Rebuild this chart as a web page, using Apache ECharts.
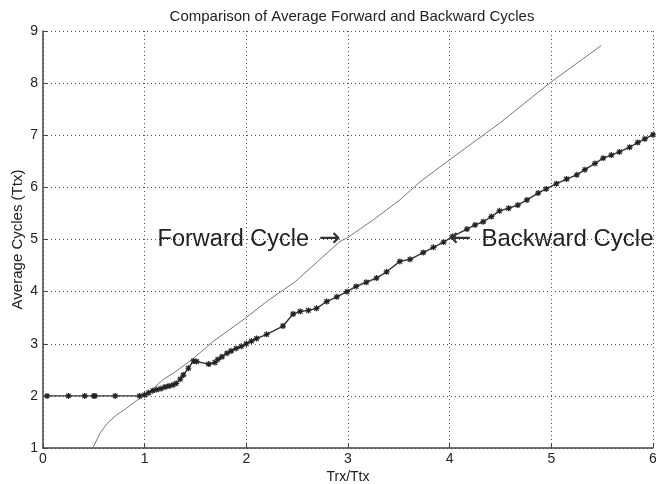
<!DOCTYPE html>
<html>
<head>
<meta charset="utf-8">
<script src="https://cdn.jsdelivr.net/npm/echarts@6/dist/echarts.min.js"></script>
<style>
  html, body { margin: 0; padding: 0; background: #fff; }
  #chart { width: 656px; height: 484px; }
</style>
</head>
<body>
<div id="chart"></div>
<script>
// forward cycle curve (thin line, no markers)
const forwardX = [0.49, 0.56, 0.63, 0.72, 0.82, 0.92, 1.0, 1.1, 1.18, 1.3, 1.48, 1.67, 1.99, 2.2, 2.48, 2.92, 3.0, 3.25, 3.51, 3.71, 4.0, 4.49, 4.99, 5.25, 5.49];
const forwardY = [1.0, 1.28, 1.47, 1.63, 1.76, 1.91, 2.0, 2.17, 2.31, 2.46, 2.72, 3.04, 3.49, 3.81, 4.19, 4.96, 5.04, 5.38, 5.76, 6.11, 6.53, 7.23, 8.01, 8.38, 8.72];

// backward cycle (line with * markers)
const backwardX = [0.04, 0.25, 0.41, 0.5, 0.51, 0.71, 0.95, 1.0, 1.04, 1.08, 1.12, 1.16, 1.2, 1.24, 1.28, 1.31, 1.35, 1.38, 1.43, 1.48, 1.51, 1.63, 1.69, 1.72, 1.76, 1.81, 1.85, 1.9, 1.95, 2.0, 2.05, 2.1, 2.2, 2.36, 2.46, 2.53, 2.61, 2.69, 2.79, 2.89, 2.99, 3.08, 3.18, 3.28, 3.38, 3.51, 3.61, 3.74, 3.84, 3.94, 4.03, 4.17, 4.25, 4.33, 4.41, 4.49, 4.58, 4.67, 4.76, 4.87, 4.95, 5.05, 5.15, 5.25, 5.33, 5.43, 5.51, 5.59, 5.67, 5.77, 5.85, 5.92, 6.0];
const backwardY = [2.0, 2.0, 2.0, 2.0, 2.0, 2.0, 2.0, 2.02, 2.06, 2.1, 2.12, 2.14, 2.17, 2.19, 2.21, 2.24, 2.32, 2.4, 2.53, 2.67, 2.66, 2.61, 2.64, 2.7, 2.75, 2.82, 2.86, 2.91, 2.95, 3.0, 3.05, 3.1, 3.18, 3.34, 3.57, 3.62, 3.64, 3.68, 3.81, 3.9, 4.0, 4.1, 4.18, 4.26, 4.38, 4.58, 4.62, 4.75, 4.85, 4.95, 5.06, 5.2, 5.28, 5.34, 5.44, 5.55, 5.6, 5.66, 5.76, 5.89, 5.97, 6.07, 6.16, 6.24, 6.34, 6.46, 6.56, 6.62, 6.68, 6.77, 6.86, 6.93, 7.01];

// annotation anchors [x, y]
const forwardNote = [2.93, 5.0];
const backwardNote = [4.0, 5.0];

const font = 'Liberation Sans, Arial, sans-serif';
const noteRich = {
  tl: { fontFamily: font, fontSize: 23.5, color: '#222', padding: [0, 10, 0, 0] },
  tr: { fontFamily: font, fontSize: 24, color: '#222', padding: [0, 0, 0, 10] },
  a: { fontFamily: 'DejaVu Sans', fontSize: 26, color: '#333' }
};

const chart = echarts.init(document.getElementById('chart'));

const pair = (xs, ys) => xs.map((x, i) => [x, ys[i]]);

chart.setOption({
  animation: false,
  backgroundColor: '#fff',
  title: {
    text: 'Comparison of Average Forward and Backward Cycles',
    left: 347,
    top: 4,
    textAlign: 'center',
    textStyle: { fontFamily: font, fontSize: 15, fontWeight: 'normal', color: '#222' }
  },
  grid: { left: 43, right: 3, top: 31, bottom: 36, outerBoundsMode: 'none' },
  xAxis: {
    type: 'value',
    min: 0, max: 6, interval: 1,
    name: 'Trx/Ttx',
    nameLocation: 'middle',
    nameGap: 22,
    nameMoveOverlap: false,
    nameTextStyle: { fontFamily: font, fontSize: 14, color: '#222' },
    axisLine: { lineStyle: { color: '#444', width: 1.5 } },
    axisTick: { inside: true, length: 5, lineStyle: { color: '#444' } },
    axisLabel: { fontFamily: font, fontSize: 14, color: '#222', margin: 4 },
    splitLine: { lineStyle: { type: [1, 3], color: '#555', width: 1 } }
  },
  yAxis: {
    type: 'value',
    min: 1, max: 9, interval: 1,
    name: 'Average Cycles (Ttx)',
    nameLocation: 'middle',
    nameGap: 18,
    nameMoveOverlap: false,
    nameTextStyle: { fontFamily: font, fontSize: 15, color: '#222' },
    axisLine: { lineStyle: { color: '#444', width: 1.5 } },
    axisTick: { inside: true, length: 5, lineStyle: { color: '#444' } },
    axisLabel: { fontFamily: font, fontSize: 14, color: '#222', margin: 5 },
    splitLine: { lineStyle: { type: [1, 3], color: '#555', width: 1 } }
  },
  series: [
    {
      name: 'Forward Cycle',
      type: 'line',
      data: pair(forwardX, forwardY),
      showSymbol: false,
      lineStyle: { color: '#777', width: 1 },
      markPoint: {
        symbol: 'circle',
        symbolSize: 0,
        data: [{ coord: forwardNote }],
        label: {
          show: true,
          position: 'left',
          distance: 0,
          formatter: '{tl|Forward Cycle}{a|\u2192}',
          rich: noteRich
        }
      }
    },
    {
      name: 'Backward Cycle',
      type: 'line',
      data: pair(backwardX, backwardY),
      symbol: 'path://M0,-4L0,4M-4,0L4,0M-3,-3L3,3M-3,3L3,-3',
      symbolSize: 6,
      itemStyle: { color: '#222', borderColor: '#222', borderWidth: 1.2 },
      lineStyle: { color: '#333', width: 1.4 },
      markPoint: {
        symbol: 'circle',
        symbolSize: 0,
        data: [{ coord: backwardNote }],
        label: {
          show: true,
          position: 'right',
          distance: 0,
          formatter: '{a|\u2190}{tr|Backward Cycle}',
          rich: noteRich
        }
      }
    }
  ]
});
</script>
</body>
</html>
